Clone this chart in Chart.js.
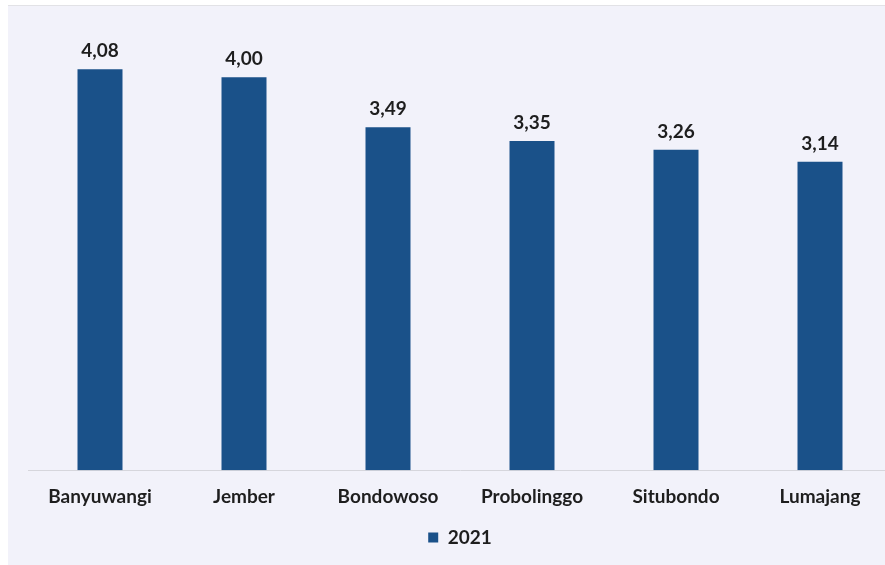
<!DOCTYPE html>
<html>
<head>
<meta charset="utf-8">
<script src="https://cdn.jsdelivr.net/npm/chart.js@4"></script>
<style>
  html, body { margin: 0; padding: 0; background: #ffffff; overflow: hidden; }
  #panel {
    position: absolute; left: 8px; top: 5px; width: 900px; height: 560px;
    background: #f2f2fa; border-top: 1px solid #e2e2e6; overflow: hidden;
  }
  #wrap { position: absolute; left: 0; top: 0; width: 900px; height: 559px; }
</style>
</head>
<body>
<div id="panel"><div id="wrap"><canvas id="barChart"></canvas></div></div>
<script>
const categories = ["Banyuwangi", "Jember", "Bondowoso", "Probolinggo", "Situbondo", "Lumajang"];
const values2021 = [4.08, 4.00, 3.49, 3.35, 3.26, 3.14];
const seriesLabel = "2021";

const barColor = "#1a5189";
const textColor = "#1e1e1e";

// angka di atas batang, format koma desimal
const valueLabels = {
  id: "valueLabels",
  afterDatasetsDraw(chart) {
    const ctx = chart.ctx;
    const meta = chart.getDatasetMeta(0);
    ctx.save();
    ctx.font = "bold 19px Lato";
    ctx.fillStyle = textColor;
    ctx.textAlign = "center";
    ctx.textBaseline = "alphabetic";
    meta.data.forEach(function (bar, i) {
      const txt = values2021[i].toFixed(2).replace(".", ",");
      ctx.fillText(txt, bar.x, bar.y - 12);
    });
    ctx.restore();
  },
};

new Chart(document.querySelector("#barChart").getContext("2d"), {
  type: "bar",
  data: {
    labels: categories,
    datasets: [{
      label: seriesLabel,
      data: values2021,
      backgroundColor: barColor,
      borderWidth: 0,
      barPercentage: 0.3125,
      categoryPercentage: 1,
    }],
  },
  options: {
    responsive: true,
    maintainAspectRatio: false,
    animation: false,
    layout: { padding: { left: 20, right: 16, top: 22, bottom: 8 } },
    plugins: {
      tooltip: { enabled: false },
      legend: {
        position: "bottom",
        labels: {
          boxWidth: 10,
          boxHeight: 10,
          padding: 5,
          color: textColor,
          font: { family: "Lato", size: 19, weight: "bold" },
        },
      },
    },
    scales: {
      x: {
        grid: { display: false, drawTicks: false },
        border: { color: "#d6d6dc", width: 1 },
        ticks: {
          padding: 15,
          color: textColor,
          font: { family: "Lato", size: 19, weight: "bold" },
        },
      },
      y: {
        display: false,
        min: 0,
        max: 4.5,
      },
    },
  },
  plugins: [valueLabels],
});
</script>
</body>
</html>
